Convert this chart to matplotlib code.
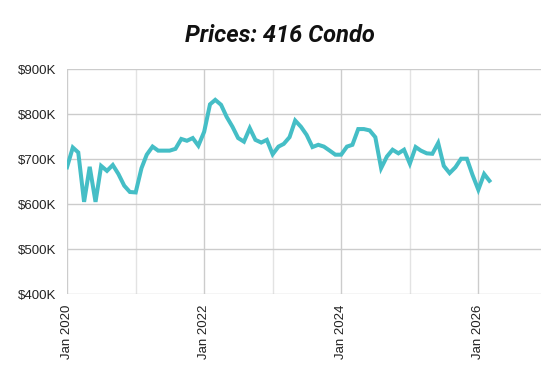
import pandas as pd
import matplotlib
matplotlib.use("Agg")
import matplotlib.pyplot as plt
import matplotlib.dates as mdates
import matplotlib.ticker as mticker

plt.rcParams['font.family'] = ['Liberation Sans', 'DejaVu Sans']

# monthly median price, thousands of dollars, Jan 2020 .. Mar 2026
prices_2020 = [682, 726, 715, 605, 683, 605, 685, 674, 687, 667, 641, 627]
prices_2021 = [626, 680, 710, 728, 719, 719, 719, 723, 745, 741, 747, 730]
prices_2022 = [761, 822, 832, 821, 794, 772, 747, 739, 769, 743, 737, 743]
prices_2023 = [711, 728, 734, 749, 786, 772, 754, 727, 732, 728, 719, 710]
prices_2024 = [710, 728, 732, 767, 767, 764, 749, 680, 706, 721, 713, 721]
prices_2025 = [690, 727, 719, 713, 712, 736, 685, 669, 682, 701, 701, 665]
prices_2026 = [632, 667, 652]

prices = (prices_2020 + prices_2021 + prices_2022 + prices_2023
          + prices_2024 + prices_2025 + prices_2026)
months = pd.date_range("2020-01-01", periods=len(prices), freq="MS")

y_ticks = [400, 500, 600, 700, 800, 900]
major_years = ["2020-01-01", "2022-01-01", "2024-01-01", "2026-01-01"]
minor_years = ["2021-01-01", "2023-01-01", "2025-01-01"]

fig = plt.figure(figsize=(5.6, 3.79), dpi=100)
ax = fig.add_axes([67 / 560, 1 - 294 / 379, (541 - 67) / 560, (294 - 69.3) / 379])

for d in minor_years:
    ax.axvline(pd.Timestamp(d), color="#e3e3e3", lw=1, zorder=1)
for d in major_years:
    ax.axvline(pd.Timestamp(d), color="#cccccc", lw=1, zorder=1)
for v in y_ticks:
    ax.axhline(v, color="#cccccc", lw=1, zorder=1)

ax.plot(months, prices, color="#45bec6", lw=2.9, solid_joinstyle="miter", zorder=3)

ax.set_xlim(pd.Timestamp("2020-01-01"), pd.Timestamp("2026-12-01"))
ax.set_ylim(400, 900)
ax.set_yticks(y_ticks)
ax.yaxis.set_major_formatter(mticker.FuncFormatter(lambda v, p: "${:.0f}K".format(v)))
ax.set_xticks([pd.Timestamp(d) for d in major_years])
ax.xaxis.set_major_formatter(mdates.DateFormatter("Jan %Y"))
ax.tick_params(axis="x", length=0, pad=8, labelsize=9.5, labelcolor="#222222", labelrotation=90)
ax.tick_params(axis="y", length=0, pad=8, labelsize=9.5, labelcolor="#222222")
for s in ax.spines.values():
    s.set_visible(False)

fig.text(0.5, 1 - 35 / 379, "Prices: 416 Condo", ha="center", va="center",
         family=["Roboto", "DejaVu Sans"],
         fontsize=17, fontweight="bold", fontstyle="italic", color="#111111")

fig.savefig("out.png", dpi=100)
